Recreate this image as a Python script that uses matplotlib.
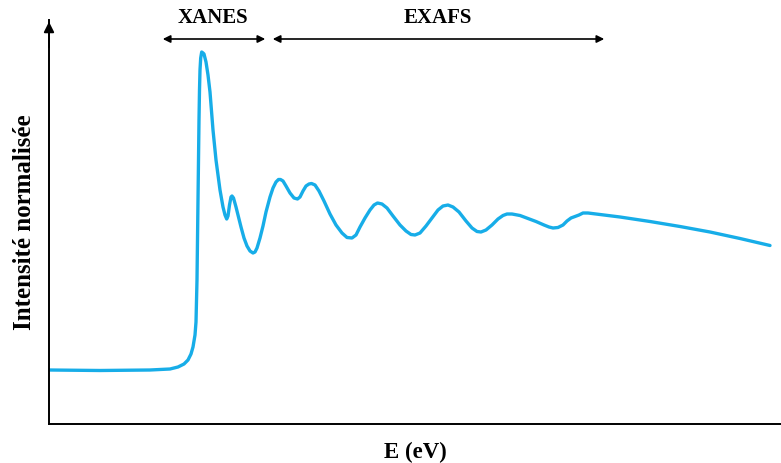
import matplotlib
matplotlib.use("Agg")
import matplotlib.pyplot as plt

# Spectrum (arbitrary units: E offset, intensity)
E_px = [49, 100, 150, 170, 178, 184, 188, 191, 193, 195, 196, 197, 197.5, 198, 198.5, 199, 199.5, 200,
        200.7, 201.7, 203, 204, 206, 208, 210, 213, 216, 220, 223, 225, 226.7, 228, 229.5, 231, 232, 233.5,
        236, 238, 241, 244, 247, 250, 253, 255, 257, 260, 263, 266, 270, 273, 276, 278.5, 280.5, 283,
        286, 290, 294, 297.5, 300, 303, 306, 309, 311.5, 315, 319, 324, 330, 336, 342, 347, 352, 356,
        360, 365, 370, 374, 377.5, 382, 387, 393, 400, 406, 411, 415, 420, 426, 432, 438, 443, 448,
        453, 459, 466, 472, 477, 481, 486, 492, 498, 503, 507, 512, 520, 528, 536, 544, 549, 553, 558,
        563, 567, 571, 575, 579, 583, 588, 600, 620, 650, 680, 710, 740, 770]
I_px = [370, 370.5, 370, 369, 367, 364, 360, 354, 347, 335, 322, 280, 240, 200, 160, 120, 90, 70,
        58, 52, 53, 54, 62, 75, 92, 130, 160, 190, 207, 215, 219, 216, 205, 197, 196, 198,
        207, 215, 227, 238, 246, 251, 253, 252, 248, 238, 226, 212, 197, 188, 182, 179.5, 179.5, 181,
        186, 193, 198, 199, 197, 191, 186, 184, 183.5, 185, 191, 201, 214, 225, 233, 237.5, 238, 235,
        227, 218, 210, 205, 203, 204, 208, 216, 225, 231, 234.5, 235, 233, 226, 218, 210, 206, 205,
        207, 212, 221, 228, 231.5, 232, 230, 225, 219, 215.5, 214, 214, 215.5, 218.5, 221.5, 225, 227, 228, 227.5,
        225, 221, 218, 216.5, 215, 213, 213, 214.5, 217, 221.5, 226.5, 232, 238.5, 245.5]

x_left, x_right = 49, 781
y_bottom, y_top = 424, 20
E = [v - x_left for v in E_px]
I = [y_bottom - v for v in I_px]

plt.rcParams['font.family'] = ['Liberation Serif', 'DejaVu Serif']

W, H = 781, 463
fig = plt.figure(figsize=(W / 100, H / 100), dpi=100)
ax = fig.add_axes([x_left / W, (H - y_bottom) / H, (x_right - x_left) / W, (y_bottom - y_top) / H])
ax.set_xlim(0, x_right - x_left)
ax.set_ylim(0, y_bottom - y_top)

ax.plot(E, I, color='#17ade8', lw=2.4, solid_capstyle='round', solid_joinstyle='round')

for s in ['top', 'right']:
    ax.spines[s].set_visible(False)
for s in ['left', 'bottom']:
    ax.spines[s].set_linewidth(1.4)
    ax.spines[s].set_color('black')
ax.set_xticks([])
ax.set_yticks([])

# arrow on top of y axis
ax.annotate('', xy=(0, y_bottom - y_top + 1), xytext=(0, y_bottom - y_top - 30),
            arrowprops=dict(arrowstyle='-|>', color='black', lw=1.4, mutation_scale=15),
            annotation_clip=False)

ax.set_xlabel('E (eV)', fontsize=16.5, fontweight='bold', labelpad=13)
ax.set_ylabel('Intensité normalisée', fontsize=18, fontweight='bold', labelpad=9)

# region arrows
y_arr = y_bottom - 39
ax.annotate('', xy=(160 - x_left, y_arr), xytext=(268 - x_left, y_arr),
            arrowprops=dict(arrowstyle='<|-|>', color='black', lw=1.2, mutation_scale=11),
            annotation_clip=False)
ax.annotate('', xy=(270 - x_left, y_arr), xytext=(607 - x_left, y_arr),
            arrowprops=dict(arrowstyle='<|-|>', color='black', lw=1.2, mutation_scale=11),
            annotation_clip=False)
ax.text(213 - x_left, y_bottom - 18, 'XANES', ha='center', va='center', fontsize=15,
        fontweight='bold', clip_on=False)
ax.text(438 - x_left, y_bottom - 18, 'EXAFS', ha='center', va='center', fontsize=15,
        fontweight='bold', clip_on=False)

fig.savefig('out.png', dpi=100)
